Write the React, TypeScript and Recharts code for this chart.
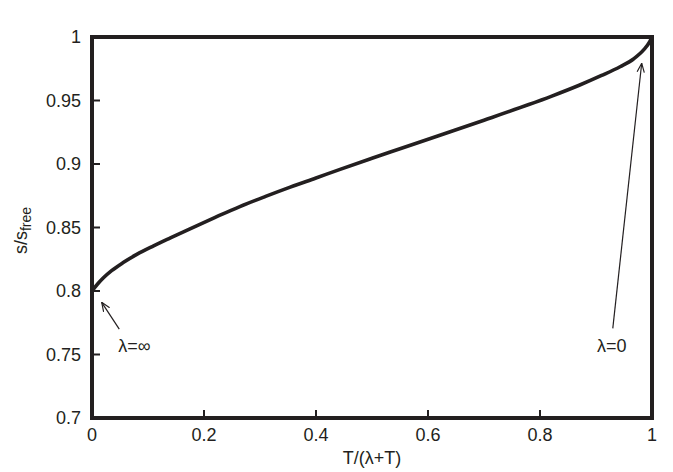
import { LineChart, Line, XAxis, YAxis, ReferenceArea, ReferenceLine, ReferenceDot } from "recharts";

const tValues = [0, 0.01, 0.02, 0.035, 0.055, 0.08, 0.11, 0.14, 0.175, 0.22, 0.264, 0.31, 0.354, 0.4, 0.443, 0.5, 0.55, 0.62, 0.7, 0.78, 0.82, 0.87, 0.91, 0.943, 0.967, 0.985, 0.996, 1];
const entropyRatio = [0.8, 0.8055, 0.8102, 0.816, 0.8222, 0.8288, 0.8355, 0.8418, 0.849, 0.858, 0.8665, 0.8745, 0.8818, 0.889, 0.8958, 0.9045, 0.912, 0.9225, 0.9345, 0.9468, 0.9533, 0.962, 0.9697, 0.9766, 0.9827, 0.9898, 0.9963, 1];

const xTicks = [0, 0.2, 0.4, 0.6, 0.8, 1];
const yTicks = [0.7, 0.75, 0.8, 0.85, 0.9, 0.95, 1];

// annotation arrows: [tail, head]
const infArrow = [{ x: 0.0487, y: 0.770 }, { x: 0.0173, y: 0.7911 }];
const zeroArrow = [{ x: 0.930, y: 0.7706 }, { x: 0.9816, y: 0.9793 }];
const notes = [
  { x: 0.047, y: 0.752, text: "λ=∞" },
  { x: 0.902, y: 0.752, text: "λ=0" },
];

const data = tValues.map((t, i) => ({ t, s: entropyRatio[i] }));

const FONT = "'Liberation Sans', Arial, Helvetica, sans-serif";
const TICK_LEN = 8;

const BottomTick = ({ x, y, payload }: any) => (
  <g>
    <line x1={x} y1={y} x2={x} y2={y - TICK_LEN} stroke="#231f20" strokeWidth={2} />
    <text x={x} y={y + 23} textAnchor="middle" fontSize={18} fontFamily={FONT} fill="#231f20">
      {payload.value}
    </text>
  </g>
);

const TopTick = ({ x, y }: any) => (
  <line x1={x} y1={y} x2={x} y2={y + TICK_LEN} stroke="#231f20" strokeWidth={2} />
);

const LeftTick = ({ x, y, payload }: any) => (
  <g>
    <line x1={x} y1={y} x2={x + TICK_LEN} y2={y} stroke="#231f20" strokeWidth={2} />
    <text x={x - 11} y={y + 6} textAnchor="end" fontSize={18} fontFamily={FONT} fill="#231f20">
      {payload.value}
    </text>
  </g>
);

const RightTick = ({ x, y }: any) => (
  <line x1={x} y1={y} x2={x - TICK_LEN} y2={y} stroke="#231f20" strokeWidth={2} />
);

const arrowShape = (p: any) => (
  <line x1={p.x1} y1={p.y1} x2={p.x2} y2={p.y2} stroke="#231f20" strokeWidth={1.2} markerEnd="url(#openArrow)" />
);

export default function App() {
  return (
    <div style={{ position: "absolute", left: 0, top: 0, background: "#fff" }}>
      <LineChart width={673} height={472} data={data} margin={{ top: 37, right: 21, bottom: 24, left: 32 }}>
        <defs>
          <marker id="openArrow" viewBox="0 0 10 10" refX="10" refY="5" markerWidth="9" markerHeight="9" markerUnits="userSpaceOnUse" orient="auto">
            <path d="M0,1 L10,5 L0,9" fill="none" stroke="#231f20" strokeWidth={1.3} />
          </marker>
        </defs>
        <XAxis
          dataKey="t"
          type="number"
          domain={[0, 1]}
          ticks={xTicks}
          height={30}
          axisLine={false}
          tickLine={false}
          tickSize={0}
          tickMargin={0}
          tick={<BottomTick />}
          interval={0}
          label={{
            content: ({ viewBox }: any) => (
              <text x={viewBox.x + viewBox.width / 2} y={464} textAnchor="middle" fontSize={18} fontFamily={FONT} fill="#231f20">
                T/(λ+T)
              </text>
            ),
          }}
        />
        <XAxis
          xAxisId="top"
          orientation="top"
          type="number"
          domain={[0, 1]}
          ticks={xTicks}
          height={0}
          axisLine={false}
          tickLine={false}
          tickSize={0}
          tickMargin={0}
          tick={<TopTick />}
          interval={0}
          label={{
            content: ({ viewBox }: any) => (
              <text x={viewBox.x + viewBox.width / 2} y={21} textAnchor="middle" fontSize={18} fontFamily={FONT} fill="#231f20">
                Entropy Density of O(N) model in 2+1d
              </text>
            ),
          }}
        />
        <YAxis
          type="number"
          domain={[0.7, 1]}
          ticks={yTicks}
          width={60}
          axisLine={false}
          tickLine={false}
          tickSize={0}
          tickMargin={0}
          tick={<LeftTick />}
          interval={0}
          label={{
            content: ({ viewBox }: any) => {
              const cx = viewBox.x - 5;
              const cy = viewBox.y + viewBox.height / 2 + 3;
              return (
                <text x={cx} y={cy} transform={`rotate(-90, ${cx}, ${cy})`} textAnchor="middle" fontSize={18} fontFamily={FONT} fill="#231f20">
                  s/s
                  <tspan fontSize={14} dy={4}>free</tspan>
                </text>
              );
            },
          }}
        />
        <YAxis
          yAxisId="right"
          orientation="right"
          type="number"
          domain={[0.7, 1]}
          ticks={yTicks}
          width={0}
          axisLine={false}
          tickLine={false}
          tickSize={0}
          tickMargin={0}
          tick={<RightTick />}
          interval={0}
        />
        <Line
          type="monotone"
          dataKey="s"
          stroke="#231f20"
          strokeWidth={3.6}
          dot={false}
          activeDot={false}
          isAnimationActive={false}
        />
        <ReferenceLine segment={infArrow} shape={arrowShape} ifOverflow="visible" />
        <ReferenceLine segment={zeroArrow} shape={arrowShape} ifOverflow="visible" />
        {notes.map((n) => (
          <ReferenceDot
            key={n.text}
            x={n.x}
            y={n.y}
            r={0}
            ifOverflow="visible"
            shape={(p: any) => (
              <text x={p.cx} y={p.cy} fontSize={18} fontFamily={FONT} fill="#231f20">
                {n.text}
              </text>
            )}
          />
        ))}
        <ReferenceArea x1={0} x2={1} y1={0.7} y2={1} fill="none" stroke="#231f20" strokeWidth={4} ifOverflow="visible" />
      </LineChart>
    </div>
  );
}
